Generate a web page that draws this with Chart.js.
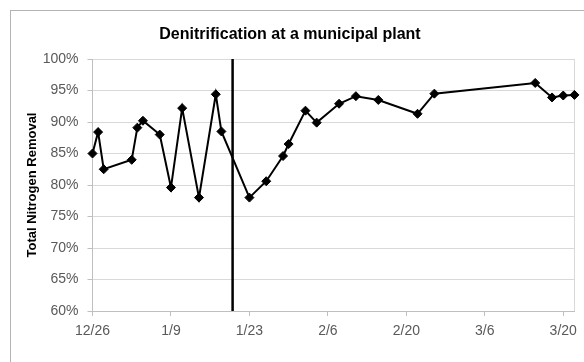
<!DOCTYPE html>
<html>
<head>
<meta charset="utf-8">
<script src="https://cdn.jsdelivr.net/npm/chart.js@4"></script>
<style>
  body { margin: 0; background: #fff; }
</style>
</head>
<body>
<canvas id="denitChart" width="584" height="362"></canvas>
<script>
// sample dates (month/day), Dec = previous year
const sampleDates = ['12/26', '12/27', '12/28', '1/2', '1/3', '1/4', '1/7', '1/9', '1/11', '1/14',
    '1/17', '1/18', '1/23', '1/26', '1/29', '1/30', '2/2', '2/4', '2/8', '2/11',
    '2/15', '2/22', '2/25', '3/15', '3/18', '3/20', '3/22'];
// total nitrogen removal (%)
const removalPct = [85.0, 88.4, 82.5, 84.0, 89.1, 90.2, 88.0, 79.6, 92.2, 78.0,
    94.4, 88.5, 78.0, 80.6, 84.6, 86.5, 91.8, 89.9, 92.9, 94.1,
    93.5, 91.3, 94.5, 96.2, 93.9, 94.2, 94.3];
// date of the process change (vertical marker)
const changeDate = '1/20';
const yTicks = [60, 65, 70, 75, 80, 85, 90, 95, 100];
const xTickLabels = ['12/26', '1/9', '1/23', '2/6', '2/20', '3/6', '3/20'];

const startDate = new Date(2014, 11, 26);

// convert "m/d" to days since 12/26
function toDay(str) {
    const parts = str.split('/');
    const m = parseInt(parts[0]);
    const d = parseInt(parts[1]);
    const year = m === 12 ? 2014 : 2015;
    const dt = new Date(year, m - 1, d);
    return Math.round((dt - startDate) / 86400000);
}

function toLabel(day) {
    const dt = new Date(2014, 11, 26 + day);
    return (dt.getMonth() + 1) + '/' + dt.getDate();
}

const points = sampleDates.map((s, i) => ({ x: toDay(s), y: removalPct[i] }));
const changeDay = toDay(changeDate);
const changeLine = [{ x: changeDay, y: yTicks[0] }, { x: changeDay, y: yTicks[yTicks.length - 1] }];

const xMin = toDay(xTickLabels[0]);
const xMax = toDay(sampleDates[sampleDates.length - 1]);

// outer chart border + right edge of plot area
const framePlugin = {
    id: 'frame',
    beforeDatasetsDraw(chart) {
        const ctx = chart.ctx;
        const a = chart.chartArea;
        ctx.save();
        ctx.lineWidth = 1;
        ctx.strokeStyle = '#b4b4b4';
        ctx.strokeRect(10.5, 10.5, 800, 800);
        ctx.strokeStyle = '#d9d9d9';
        ctx.beginPath();
        ctx.moveTo(Math.round(a.right) + 0.5, a.top);
        ctx.lineTo(Math.round(a.right) + 0.5, a.bottom);
        ctx.stroke();
        ctx.restore();
    }
};

const config = {
    type: 'line',
    data: {
        datasets: [
            {
                label: 'Total Nitrogen Removal',
                data: points,
                borderColor: '#000',
                backgroundColor: '#000',
                borderWidth: 2,
                pointStyle: 'rectRot',
                pointRadius: 4.5,
                pointBorderWidth: 1,
                tension: 0,
                clip: false
            },
            {
                label: 'change',
                data: changeLine,
                borderColor: '#000',
                borderWidth: 2.5,
                pointRadius: 0
            }
        ]
    },
    options: {
        responsive: false,
        animation: false,
        layout: { padding: { left: 2, right: 6, top: 11, bottom: 0 } },
        plugins: {
            legend: { display: false },
            tooltip: { enabled: false },
            title: {
                display: true,
                text: 'Denitrification at a municipal plant',
                color: '#000',
                font: { family: 'Liberation Sans', size: 16, weight: 'bold' },
                padding: { top: 14.4, bottom: 14.4 }
            }
        },
        scales: {
            x: {
                type: 'linear',
                min: xMin,
                max: xMax,
                afterFit: (scale) => { scale.height = 51; },
                border: { color: '#bfbfbf' },
                grid: { drawOnChartArea: false, drawTicks: true, tickLength: 5, color: '#bfbfbf' },
                ticks: {
                    stepSize: 14,
                    includeBounds: false,
                    maxRotation: 0,
                    padding: 7,
                    color: '#595959',
                    font: { family: 'Liberation Sans', size: 14 },
                    callback: (v) => toLabel(v)
                }
            },
            y: {
                min: yTicks[0],
                max: yTicks[yTicks.length - 1],
                afterFit: (scale) => { scale.width = 90.5; },
                border: { color: '#bfbfbf' },
                grid: { color: '#d9d9d9', tickColor: '#bfbfbf', tickLength: 5 },
                ticks: {
                    stepSize: 5,
                    padding: 9,
                    color: '#595959',
                    font: { family: 'Liberation Sans', size: 14 },
                    callback: (v) => v + '%'
                },
                title: {
                    display: true,
                    text: 'Total Nitrogen Removal',
                    color: '#000',
                    font: { family: 'Liberation Sans', size: 13, weight: 'bold' },
                    padding: { top: 22.2, bottom: 4 }
                }
            }
        }
    },
    plugins: [framePlugin]
};

const ctx = document.getElementById('denitChart').getContext('2d');
const denitChart = new Chart(ctx, config);
</script>
</body>
</html>
